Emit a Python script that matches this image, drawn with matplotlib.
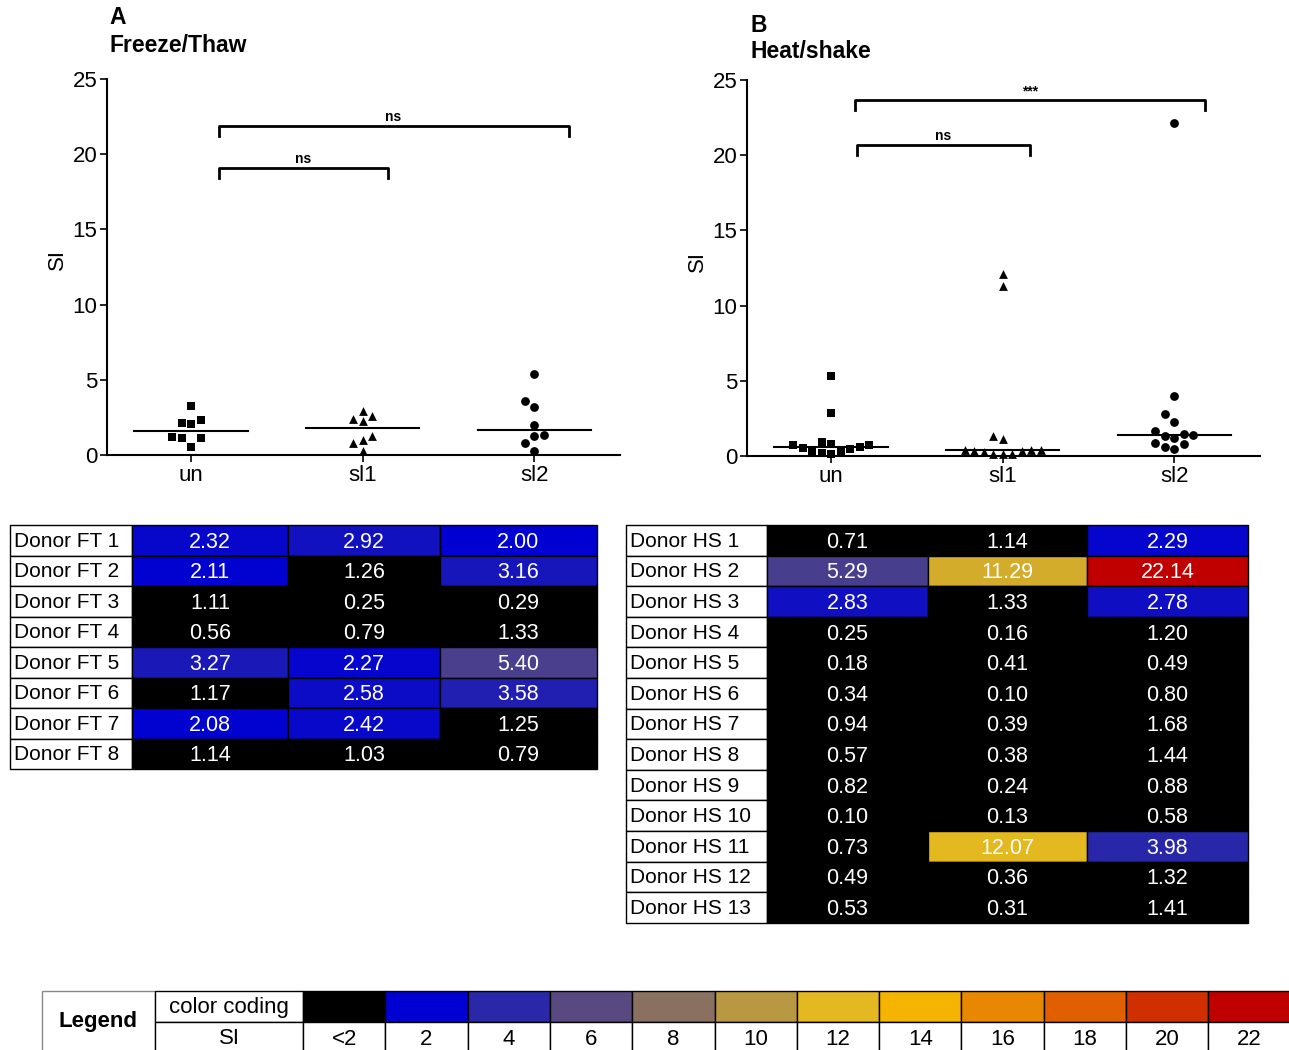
import numpy as np
import matplotlib.pyplot as plt
from matplotlib.patches import Rectangle
from matplotlib.colors import LinearSegmentedColormap

plt.rcParams['font.family'] = ['Liberation Sans', 'DejaVu Sans']

groups = ['un', 'sl1', 'sl2']

ft_donors = ['Donor FT %d' % i for i in range(1, 9)]
ft_un = [2.32, 2.11, 1.11, 0.56, 3.27, 1.17, 2.08, 1.14]
ft_sl1 = [2.92, 1.26, 0.25, 0.79, 2.27, 2.58, 2.42, 1.03]
ft_sl2 = [2.00, 3.16, 0.29, 1.33, 5.40, 3.58, 1.25, 0.79]

hs_donors = ['Donor HS %d' % i for i in range(1, 14)]
hs_un = [0.71, 5.29, 2.83, 0.25, 0.18, 0.34, 0.94, 0.57, 0.82, 0.10, 0.73, 0.49, 0.53]
hs_sl1 = [1.14, 11.29, 1.33, 0.16, 0.41, 0.10, 0.39, 0.38, 0.24, 0.13, 12.07, 0.36, 0.31]
hs_sl2 = [2.29, 22.14, 2.78, 1.20, 0.49, 0.80, 1.68, 1.44, 0.88, 0.58, 3.98, 1.32, 1.41]

# significance brackets: (x1, x2, y, label)
ft_brackets = [(0.16, 1.15, 19.1, 'ns'), (0.16, 2.2, 21.9, 'ns')]
hs_brackets = [(0.15, 1.16, 20.7, 'ns'), (0.14, 2.18, 23.7, '***')]

legend_labels = ['<2', '2', '4', '6', '8', '10', '12', '14', '16', '18', '20', '22']
legend_colors = ['#000000', '#0000d2', '#2a28a8', '#584a80', '#8a7060', '#b89840',
                 '#e4b820', '#f5b400', '#e88800', '#e06000', '#d03000', '#c00000']
legend_levels = [2, 4, 6, 8, 10, 12, 14, 16, 18, 20, 22]

cmap = LinearSegmentedColormap.from_list(
    'si', [((v - 2) / 20, c) for v, c in zip(legend_levels, legend_colors[1:])])


def si_color(v):
    if v < 2:
        return '#000000'
    return cmap(min((v - 2) / 20, 1.0))


W, H = 1289, 1050
fig = plt.figure(figsize=(W / 100, H / 100), dpi=100)


def swarm(vals, ppx, ppy, d=9.5):
    vals = np.asarray(vals)
    offs = np.zeros(len(vals))
    placed = []
    cands = [0.0] + [s * j * d for j in range(1, 30) for s in (-1, 1)]
    for i in np.argsort(vals):
        y = vals[i] * ppy
        for c in cands:
            if all((c - px) ** 2 + (y - py) ** 2 >= d * d for px, py in placed):
                break
        placed.append((c, y))
        offs[i] = c / ppx
    return offs


def dot_plot(rect, data, brackets):
    ax = fig.add_axes(rect)
    ax.set_xlim(-0.49, 2.5)
    ax.set_ylim(0, 25)
    ppx = rect[2] * W / 2.99
    ppy = rect[3] * H / 25
    markers = ['s', '^', 'o']
    for k, vals in enumerate(data):
        offs = swarm(vals, ppx, ppy)
        ax.scatter(k + offs, vals, marker=markers[k], s=40, color='black',
                   clip_on=False, zorder=3, linewidths=0)
        m = np.median(vals)
        ax.plot([k - 0.33, k + 0.33], [m, m], color='black', lw=1.5)
    for x1, x2, y, lab in brackets:
        ax.plot([x1, x1, x2, x2], [y - 0.7, y, y, y - 0.7], color='black', lw=2)
        ax.text((x1 + x2) / 2, y + 0.1, lab, ha='center', va='bottom',
                fontsize=10, fontweight='bold')
    ax.spines['top'].set_visible(False)
    ax.spines['right'].set_visible(False)
    ax.spines['left'].set_linewidth(1.5)
    ax.spines['bottom'].set_linewidth(1.5)
    ax.set_yticks([0, 5, 10, 15, 20, 25])
    ax.set_xticks([0, 1, 2])
    ax.set_xticklabels(groups)
    ax.tick_params(labelsize=16, width=1.2, length=5, pad=2)
    return ax


dot_plot([107 / W, 1 - 455 / H, 513 / W, 376 / H], [ft_un, ft_sl1, ft_sl2], ft_brackets)
dot_plot([747 / W, 1 - 456 / H, 513 / W, 376 / H], [hs_un, hs_sl1, hs_sl2], hs_brackets)

fig.text(109 / W, 1 - 18 / H, 'A', fontsize=16.5, fontweight='bold', va='center')
fig.text(109 / W, 1 - 45 / H, 'Freeze/Thaw', fontsize=16.5, fontweight='bold', va='center')
fig.text(750 / W, 1 - 25 / H, 'B', fontsize=16.5, fontweight='bold', va='center')
fig.text(750 / W, 1 - 52 / H, 'Heat/shake', fontsize=16.5, fontweight='bold', va='center')
fig.text(57 / W, 1 - 260 / H, 'SI', fontsize=16, rotation=90, ha='center', va='center')
fig.text(697 / W, 1 - 262 / H, 'SI', fontsize=16, rotation=90, ha='center', va='center')

# overlay in pixel coordinates for tables and legend
bg = fig.add_axes([0, 0, 1, 1])
bg.set_xlim(0, W)
bg.set_ylim(H, 0)
bg.axis('off')


def draw_table(x0, y0, col_w, row_h, donors, cols):
    for r, name in enumerate(donors):
        y = y0 + r * row_h
        bg.add_patch(Rectangle((x0, y), col_w[0], row_h, facecolor='white',
                               edgecolor='black', lw=1))
        bg.text(x0 + 4, y + row_h / 2 + 1, name, fontsize=15, va='center', ha='left')
        x = x0 + col_w[0]
        for c, vals in enumerate(cols):
            v = vals[r]
            bg.add_patch(Rectangle((x, y), col_w[c + 1], row_h, facecolor=si_color(v),
                                   edgecolor='black', lw=1))
            bg.text(x + col_w[c + 1] / 2, y + row_h / 2 + 2, '%.2f' % v, fontsize=15.5,
                    color='white', ha='center', va='center')
            x += col_w[c + 1]


draw_table(10, 525, [122, 156, 152, 157], 30.5, ft_donors, [ft_un, ft_sl1, ft_sl2])
draw_table(626, 525, [141, 161, 159, 161], 30.6, hs_donors, [hs_un, hs_sl1, hs_sl2])

# colour legend
ly, lh = 991, 31
bg.add_patch(Rectangle((42, ly), 113, 2 * lh, facecolor='white', edgecolor='#888888', lw=1))
bg.text(98, ly + lh, 'Legend', fontsize=16, fontweight='bold', ha='center', va='center')
bg.add_patch(Rectangle((155, ly), 148, lh, facecolor='white', edgecolor='black', lw=1))
bg.add_patch(Rectangle((155, ly + lh), 148, lh, facecolor='white', edgecolor='black', lw=1))
bg.text(229, ly + lh / 2 + 1, 'color coding', fontsize=16, ha='center', va='center')
bg.text(229, ly + 1.5 * lh + 1, 'SI', fontsize=16, ha='center', va='center')
cw = 82.3
for i, (lab, col) in enumerate(zip(legend_labels, legend_colors)):
    x = 303 + i * cw
    bg.add_patch(Rectangle((x, ly), cw, lh, facecolor=col, edgecolor='black', lw=1))
    bg.add_patch(Rectangle((x, ly + lh), cw, lh, facecolor='white', edgecolor='black', lw=1))
    bg.text(x + cw / 2, ly + 1.5 * lh + 2, lab, fontsize=16, ha='center', va='center')

fig.savefig('out.png', dpi=100)
